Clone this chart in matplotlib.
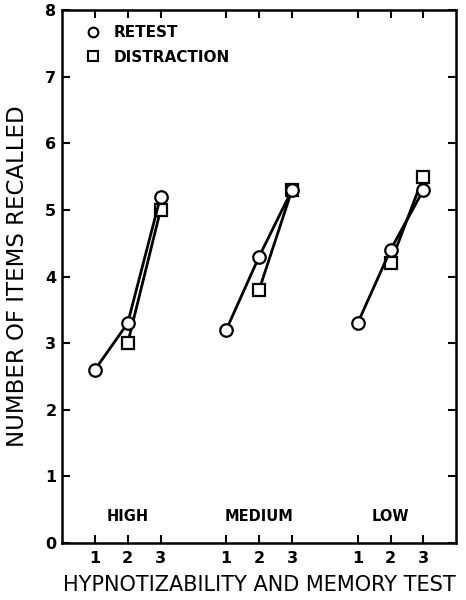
import matplotlib
matplotlib.use("Agg")
import matplotlib.pyplot as plt
from matplotlib.lines import Line2D

# positions of the three tests in each hypnotizability group
groups = ["HIGH", "MEDIUM", "LOW"]
group_start = [1, 5, 9]
tests = [1, 2, 3]

# retest: tests 1, 2, 3
retest = [[2.6, 3.3, 5.2],
          [3.2, 4.3, 5.3],
          [3.3, 4.4, 5.3]]
# distraction: tests 2, 3 (test 1 shared with retest)
distraction = [[3.0, 5.0],
               [3.8, 5.3],
               [4.2, 5.5]]

plt.rcParams['font.family'] = ['DejaVu Sans']

fig = plt.figure(figsize=(4.66, 6.0), dpi=100)
ax = fig.add_axes([0.133, 0.095, 0.846, 0.888])

xticks = []
for g, s in enumerate(group_start):
    xs = [s + t - 1 for t in tests]
    xticks += xs
    ax.plot(xs[1:], distraction[g], color='black', lw=2, marker='s', ms=8,
            mfc='white', mec='black', mew=1.6, zorder=2)
    ax.plot(xs, retest[g], color='black', lw=2, marker='o', ms=9,
            mfc='white', mec='black', mew=1.6, zorder=3)
    ax.text(xs[1], 0.4, groups[g], ha='center', va='center',
            fontsize=10.5, fontweight='bold')

ax.set_xlim(0, 12)
ax.set_ylim(0, 8)
ax.set_xticks(xticks)
ax.set_xticklabels([str(t) for t in tests] * 3)
ax.set_yticks(range(0, 9))
ax.tick_params(direction='in', length=6, width=1.5, top=True, right=True,
               labelsize=11.5, pad=4)
for lab in ax.get_xticklabels() + ax.get_yticklabels():
    lab.set_fontweight('bold')
ax.tick_params(axis='x', pad=6)
for sp in ax.spines.values():
    sp.set_linewidth(1.8)

ax.set_ylabel("NUMBER OF ITEMS RECALLED", fontsize=16.5, labelpad=12)
ax.set_xlabel("HYPNOTIZABILITY AND MEMORY TEST", fontsize=15, labelpad=6)

handles = [Line2D([], [], ls='none', marker='o', ms=7, mfc='white', mec='black', mew=1.5),
           Line2D([], [], ls='none', marker='s', ms=7, mfc='white', mec='black', mew=1.5)]
ax.legend(handles, ["RETEST", "DISTRACTION"], loc='upper left', frameon=False,
          prop={'size': 11, 'weight': 'bold'}, handletextpad=0.4,
          borderaxespad=0.6, labelspacing=0.6)

fig.savefig("out.png", dpi=100)
